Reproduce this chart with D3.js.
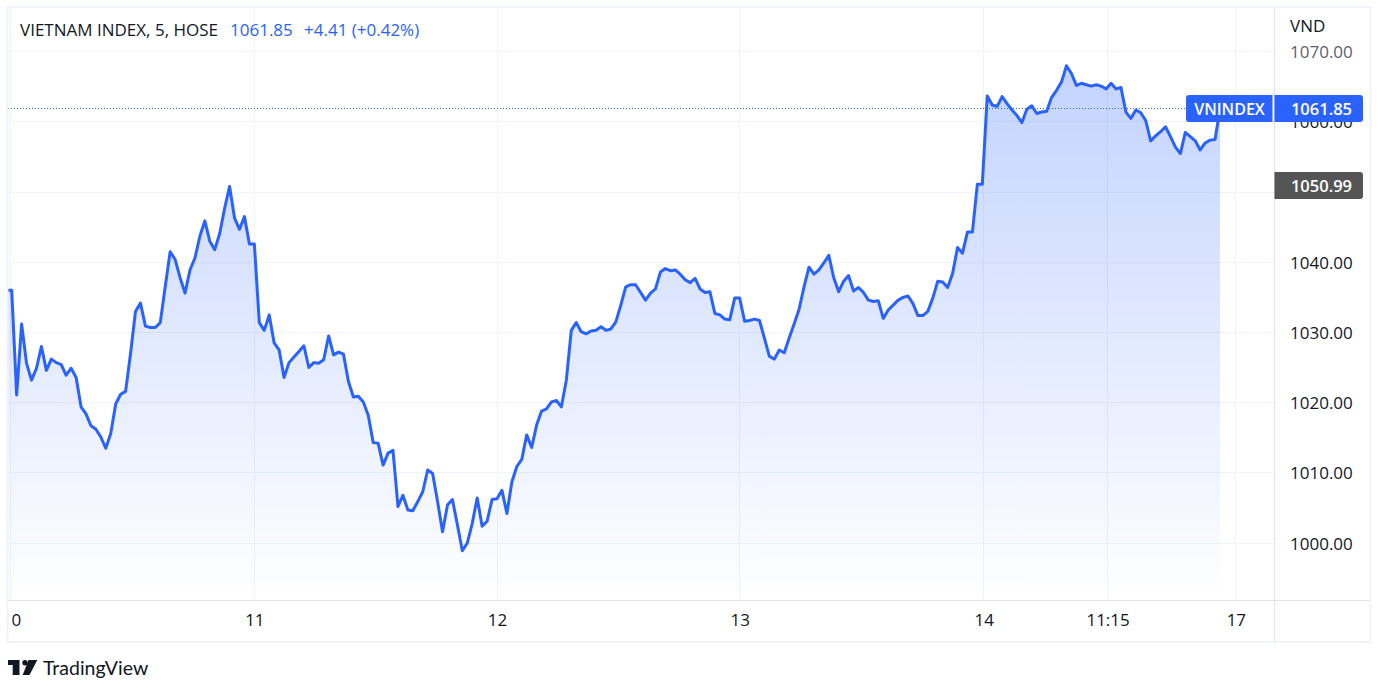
<!DOCTYPE html>
<html>
<head>
<meta charset="utf-8">
<script src="https://cdn.jsdelivr.net/npm/d3@7"></script>
<style>
  html, body { margin: 0; padding: 0; background: #fff; overflow: hidden; }
  text { font-family: "Open Sans", sans-serif; }
</style>
</head>
<body>
<div id="chart"></div>
<script>
var svgWidth = 1385;
var svgHeight = 695;

// 5 minute closes, first one is the bar clipped by the pane edge
var closes = [
  1036.0, 1036.0, 1021.1, 1031.2, 1025.6, 1023.2, 1024.9, 1028.0, 1024.6, 1026.2, 1025.7, 1025.4,
  1023.9, 1024.9, 1023.6, 1019.4, 1018.4, 1016.7, 1016.2, 1015.1, 1013.5, 1015.6, 1019.8, 1021.2,
  1021.6, 1027.0, 1033.0, 1034.2, 1030.9, 1030.7, 1030.7, 1031.4, 1036.5, 1041.5, 1040.4, 1037.8,
  1035.6, 1038.9, 1040.6, 1043.7, 1045.9, 1043.0, 1041.8, 1044.1, 1047.7, 1050.8, 1046.3, 1044.7,
  1046.5, 1042.6, 1042.6, 1031.4, 1030.3, 1032.5, 1028.5, 1027.5, 1023.6, 1025.7, 1026.5, 1027.3,
  1028.1, 1025.0, 1025.7, 1025.6, 1026.1, 1029.5, 1026.8, 1027.2, 1026.9, 1023.0, 1020.8, 1020.9,
  1020.1, 1018.2, 1014.3, 1014.2, 1011.1, 1012.8, 1013.2, 1005.2, 1006.8, 1004.7, 1004.6, 1005.9,
  1007.3, 1010.4, 1009.9, 1005.9, 1001.6, 1005.4, 1006.2, 1002.6, 998.9, 1000.0, 1002.8, 1006.4,
  1002.4, 1003.1, 1006.2, 1006.3, 1007.5, 1004.2, 1008.7, 1010.9, 1011.9, 1015.4, 1013.6, 1016.8,
  1018.8, 1019.1, 1020.1, 1020.3, 1019.4, 1023.2, 1030.3, 1031.4, 1030.1, 1029.8, 1030.2, 1030.3,
  1030.8, 1030.3, 1030.5, 1031.5, 1033.9, 1036.5, 1036.8, 1036.8, 1035.7, 1034.6, 1035.6, 1036.2,
  1038.6, 1039.1, 1038.8, 1038.9, 1038.3, 1037.5, 1037.1, 1037.7, 1036.2, 1035.7, 1035.8, 1032.7,
  1032.5, 1031.9, 1031.8, 1034.9, 1034.9, 1031.6, 1031.7, 1031.9, 1031.7, 1029.2, 1026.6, 1026.2,
  1027.5, 1027.1, 1029.2, 1031.2, 1033.3, 1036.5, 1039.3, 1038.3, 1038.9, 1039.9, 1041.0, 1037.8,
  1035.8, 1037.3, 1038.1, 1035.9, 1036.4, 1035.7, 1034.6, 1034.4, 1034.5, 1032.0, 1033.2, 1033.9,
  1034.6, 1035.0, 1035.2, 1034.1, 1032.4, 1032.4, 1033.0, 1034.9, 1037.3, 1037.2, 1036.4, 1038.4,
  1042.1, 1041.3, 1044.3, 1044.3, 1051.1, 1051.1, 1063.7, 1062.4, 1062.2, 1063.6, 1062.6, 1061.7,
  1060.9, 1059.9, 1061.8, 1062.3, 1061.2, 1061.4, 1061.5, 1063.5, 1064.5, 1065.7, 1068.0, 1066.9,
  1065.2, 1065.5, 1065.3, 1065.1, 1065.3, 1065.1, 1064.7, 1065.5, 1064.7, 1064.9, 1061.4, 1060.5,
  1061.7, 1061.3, 1060.2, 1057.3, 1058.0, 1058.6, 1059.3, 1057.9, 1056.4, 1055.5, 1058.5, 1057.9,
  1057.3, 1056.0, 1057.0, 1057.4, 1057.5, 1061.85
];

var priceTicks = [1000, 1010, 1020, 1030, 1040, 1050, 1060, 1070];
// 1050.00 is covered by the dark label, so it gets a grid line and no text
var priceLabelTicks = [1000, 1010, 1020, 1030, 1040, 1060, 1070];

// bar positions of the time axis labels
var timeTickBars = [0.85, 50, 99, 148, 197.3, 222.3, 248.2];
var timeTickLabels = ["10", "11", "12", "13", "14", "11:15", "17"];

var lastPrice = 1061.85;
var prevClose = 1050.99;
var symbolTitle = "VIETNAM INDEX, 5, HOSE";
var quoteParts = ["1061.85", "+4.41 (+0.42%)"];

var pane = { left: 8, right: 1274, top: 8, bottom: 600 };

var svg = d3.select("#chart")
  .append("svg")
  .attr("width", svgWidth)
  .attr("height", svgHeight)
  .style("display", "block");

var xScale = d3.scaleLinear()
  .domain([0, closes.length - 1])
  .range([6.75, 1220]);

// 1000 sits at y 543 and 1070 at y 51.7
var yScale = d3.scaleLinear()
  .domain([1000, 1070])
  .range([543, 51.7]);

var defs = svg.append("defs");

defs.append("clipPath")
  .attr("id", "paneClip")
  .append("rect")
  .attr("x", pane.left)
  .attr("y", pane.top)
  .attr("width", pane.right - pane.left)
  .attr("height", pane.bottom - pane.top);

defs.append("clipPath")
  .attr("id", "timeClip")
  .append("rect")
  .attr("x", pane.left)
  .attr("y", 0)
  .attr("width", 1362)
  .attr("height", 41);

var gradient = defs.append("linearGradient")
  .attr("id", "areaFill")
  .attr("gradientUnits", "userSpaceOnUse")
  .attr("x1", 0).attr("x2", 0)
  .attr("y1", yScale(d3.max(closes)))
  .attr("y2", pane.bottom);
gradient.append("stop").attr("offset", 0).attr("stop-color", "#2962ff").attr("stop-opacity", 0.28);
gradient.append("stop").attr("offset", 1).attr("stop-color", "#2962ff").attr("stop-opacity", 0);

// grid
var grid = svg.append("g").attr("clip-path", "url(#paneClip)");

grid.selectAll("line.h")
  .data(priceTicks)
  .enter()
  .append("line")
  .attr("class", "h")
  .attr("x1", pane.left).attr("x2", pane.right)
  .attr("y1", d => Math.floor(yScale(d)) + 0.5)
  .attr("y2", d => Math.floor(yScale(d)) + 0.5)
  .attr("stroke", "#f0f3fa");

grid.selectAll("line.v")
  .data(timeTickBars)
  .enter()
  .append("line")
  .attr("class", "v")
  .attr("y1", pane.top).attr("y2", pane.bottom)
  .attr("x1", d => Math.floor(xScale(d)) + 0.5)
  .attr("x2", d => Math.floor(xScale(d)) + 0.5)
  .attr("stroke", "#f0f3fa");

// area and line
var plot = svg.append("g").attr("clip-path", "url(#paneClip)");

var area = d3.area()
  .x((d, i) => xScale(i))
  .y0(pane.bottom)
  .y1(d => yScale(d));

var line = d3.line()
  .x((d, i) => xScale(i))
  .y(d => yScale(d));

plot.append("path")
  .datum(closes)
  .attr("d", area)
  .attr("fill", "url(#areaFill)");

plot.append("line")
  .attr("x1", pane.left).attr("x2", 1186)
  .attr("y1", Math.floor(yScale(lastPrice)) + 0.5)
  .attr("y2", Math.floor(yScale(lastPrice)) + 0.5)
  .attr("stroke", "#2962ff")
  .attr("stroke-dasharray", "1,2");

plot.append("path")
  .datum(closes)
  .attr("d", line)
  .attr("fill", "none")
  .attr("stroke", "#2962ff")
  .attr("stroke-width", 3)
  .attr("stroke-linejoin", "round");

// price axis
var priceAxis = svg.append("g")
  .attr("transform", "translate(" + pane.right + ", 0.6)")
  .call(d3.axisRight(yScale).tickValues(priceLabelTicks).tickSize(0).tickPadding(16).tickFormat(d3.format(".2f")));
priceAxis.select(".domain").remove();
priceAxis.selectAll("text")
  .attr("fill", d => d === 1070 ? "#5d606b" : "#131722")
  .attr("font-size", 17)
  .style("font-family", '"Open Sans", sans-serif');

// time axis, clipped on the left so the first label is cut by the frame
var timeAxis = svg.append("g")
  .attr("transform", "translate(0, " + pane.bottom + ")")
  .attr("clip-path", "url(#timeClip)")
  .call(d3.axisBottom(xScale).tickValues(timeTickBars).tickSize(0).tickPadding(14).tickFormat((d, i) => timeTickLabels[i]));
timeAxis.select(".domain").remove();
timeAxis.selectAll("text")
  .attr("fill", "#131722")
  .attr("font-size", 17)
  .style("font-family", '"Open Sans", sans-serif');

// pane separators and outer frame
svg.append("line")
  .attr("x1", pane.right + 0.5).attr("x2", pane.right + 0.5)
  .attr("y1", pane.top).attr("y2", 641)
  .attr("stroke", "#e0e3eb");
svg.append("line")
  .attr("x1", pane.left).attr("x2", 1370)
  .attr("y1", pane.bottom + 0.5).attr("y2", pane.bottom + 0.5)
  .attr("stroke", "#e0e3eb");
svg.append("rect")
  .attr("x", 7.5).attr("y", 7)
  .attr("width", 1363).attr("height", 635)
  .attr("fill", "none")
  .attr("stroke", "#f0f3fa")
  .attr("stroke-width", 2);

// legend
var legend = svg.append("text")
  .attr("x", 20).attr("y", 36)
  .attr("font-size", 17);
legend.append("tspan").attr("fill", "#131722").text(symbolTitle);
legend.append("tspan").attr("x", 230).attr("fill", "#2962ff").text(quoteParts[0]);
legend.append("tspan").attr("x", 304).attr("fill", "#2962ff").text(quoteParts[1]);

svg.append("text")
  .attr("x", 1290).attr("y", 32)
  .attr("font-size", 17)
  .attr("fill", "#131722")
  .text("VND");

// last price labels
function roundedBox(x, y, w, h, color, leftR, rightR) {
  var p = d3.path();
  p.moveTo(x + leftR, y);
  p.lineTo(x + w - rightR, y);
  p.arcTo(x + w, y, x + w, y + rightR, rightR);
  p.lineTo(x + w, y + h - rightR);
  p.arcTo(x + w, y + h, x + w - rightR, y + h, rightR);
  p.lineTo(x + leftR, y + h);
  p.arcTo(x, y + h, x, y + h - leftR, leftR);
  p.lineTo(x, y + leftR);
  p.arcTo(x, y, x + leftR, y, leftR);
  p.closePath();
  svg.append("path").attr("d", p.toString()).attr("fill", color);
}

roundedBox(1186, 95, 86.5, 27, "#2962ff", 3, 0);
roundedBox(1274.5, 95, 88.5, 27, "#2962ff", 0, 3);
roundedBox(1274.5, 172, 88.5, 27, "#555555", 0, 3);

var flags = [
  { x: 1229.5, y: 109, size: 16, label: "VNINDEX" },
  { x: 1321.5, y: 109, size: 16.5, label: lastPrice.toFixed(2) },
  { x: 1321.5, y: 186, size: 16.5, label: prevClose.toFixed(2) }
];

svg.selectAll("text.flag")
  .data(flags)
  .enter()
  .append("text")
  .attr("class", "flag")
  .attr("x", d => d.x)
  .attr("y", d => d.y)
  .attr("dy", "0.36em")
  .attr("text-anchor", "middle")
  .attr("fill", "#ffffff")
  .attr("font-size", d => d.size)
  .attr("font-weight", 600)
  .text(d => d.label);

// logo
var logo = svg.append("g").attr("fill", "#131722");
logo.append("path").attr("d", "M8 660H19.5V675H12.7V665H8Z");
logo.append("circle").attr("cx", 25).attr("cy", 662.7).attr("r", 2.7);
logo.append("path").attr("d", "M28.5 660H37.3L29.5 675H22.7Z");
svg.append("text")
  .attr("x", 43).attr("y", 675)
  .attr("font-size", 19.5)
  .attr("fill", "#131722")
  .style("font-family", "Lato, sans-serif")
  .text("TradingView");
</script>
</body>
</html>
